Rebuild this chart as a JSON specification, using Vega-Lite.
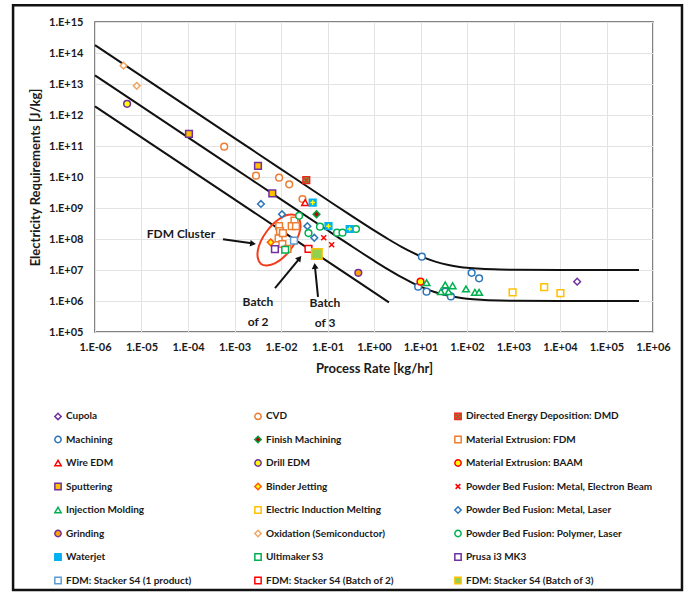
{
  "$schema": "https://vega.github.io/schema/vega-lite/v6.json",
  "width": 558,
  "height": 310,
  "autosize": {"type": "none"},
  "padding": {"left": 95, "top": 22, "right": 35, "bottom": 265},
  "background": "white",
  "config": {
    "font": "Lato",
    "view": {"stroke": "#595959", "strokeWidth": 1.5},
    "axis": {
      "labelFont": "Lato", "labelFontSize": 11, "labelFontWeight": "bold", "labelColor": "#1a1a1a",
      "titleFont": "Lato", "titleFontSize": 13, "titleFontWeight": "bold", "titleColor": "#1a1a1a",
      "gridColor": "#e3e3e3", "gridWidth": 1, "domain": false, "ticks": false
    },
    "legend": {
      "labelFont": "Lato", "labelFontSize": 10, "labelFontWeight": "bold", "labelColor": "#1a1a1a"
    }
  },
  "datasets": {
    "curves": [
      {"c":"top","x":1e-6,"y":1.8e14},{"c":"top","x":1e-5,"y":1.8e13},{"c":"top","x":1e-4,"y":1.8e12},{"c":"top","x":1e-3,"y":1.8e11},{"c":"top","x":1e-2,"y":1.8e10},{"c":"top","x":0.1,"y":1.81e9},{"c":"top","x":0.3,"y":6.1e8},{"c":"top","x":1,"y":1.9e8},{"c":"top","x":2,"y":1.0e8},{"c":"top","x":4,"y":5.5e7},{"c":"top","x":7,"y":3.57e7},{"c":"top","x":10,"y":2.8e7},{"c":"top","x":20,"y":1.9e7},{"c":"top","x":40,"y":1.45e7},{"c":"top","x":70,"y":1.26e7},{"c":"top","x":100,"y":1.18e7},{"c":"top","x":200,"y":1.09e7},{"c":"top","x":500,"y":1.036e7},{"c":"top","x":1000,"y":1.018e7},{"c":"top","x":10000,"y":1.002e7},{"c":"top","x":500000,"y":1e7},
      {"c":"mid","x":1e-6,"y":1.9e13},{"c":"mid","x":1e-5,"y":1.9e12},{"c":"mid","x":1e-4,"y":1.9e11},{"c":"mid","x":1e-3,"y":1.9e10},{"c":"mid","x":1e-2,"y":1.9e9},{"c":"mid","x":0.1,"y":1.91e8},{"c":"mid","x":0.3,"y":6.43e7},{"c":"mid","x":1,"y":2.0e7},{"c":"mid","x":2,"y":1.05e7},{"c":"mid","x":4,"y":5.75e6},{"c":"mid","x":7,"y":3.71e6},{"c":"mid","x":10,"y":2.9e6},{"c":"mid","x":20,"y":1.95e6},{"c":"mid","x":40,"y":1.475e6},{"c":"mid","x":70,"y":1.27e6},{"c":"mid","x":100,"y":1.19e6},{"c":"mid","x":200,"y":1.095e6},{"c":"mid","x":500,"y":1.038e6},{"c":"mid","x":1000,"y":1.019e6},{"c":"mid","x":10000,"y":1.002e6},{"c":"mid","x":500000,"y":1e6},
      {"c":"bot","x":1e-6,"y":1.9e12},{"c":"bot","x":1e-5,"y":1.9e11},{"c":"bot","x":1e-4,"y":1.9e10},{"c":"bot","x":1e-3,"y":1.9e9},{"c":"bot","x":1e-2,"y":1.9e8},{"c":"bot","x":0.1,"y":1.9e7},{"c":"bot","x":1,"y":1.9e6},{"c":"bot","x":2.1,"y":9.0e5}
    ],
    "ellipse": [
      {"i":0,"x":0.02208,"y":5.52e8},{"i":1,"x":0.02588,"y":2.04e8},{"i":2,"x":0.01641,"y":4.75e7},{"i":3,"x":0.007362,"y":1.633e7},
      {"i":4,"x":0.003715,"y":1.563e7},{"i":5,"x":0.00317,"y":4.23e7},{"i":6,"x":0.005,"y":1.81e8},{"i":7,"x":0.01114,"y":5.28e8}
    ],
    "arrows": [
      {"x":5.66e-4,"y":9.78e7,"x2":2.34e-3,"y2":7.26e7},
      {"x":7.43e-3,"y":2.62e6,"x2":2.44e-2,"y2":2.26e7},
      {"x":6.25e-2,"y":1.35e6,"x2":5.38e-2,"y2":1.25e7}
    ],
    "heads": [
      {"x":2.5e-3,"y":7.1e7,"a":8},
      {"x":2.5e-2,"y":2.4e7,"a":309},
      {"x":5.35e-2,"y":1.35e7,"a":265}
    ],
    "labels": [
      {"x":7.06e-5,"y":1.45e8,"t":"FDM Cluster"},
      {"x":3.2e-3,"y":9.5e5,"t":"Batch"},
      {"x":3.2e-3,"y":2.1e5,"t":"of 2"},
      {"x":8.83e-2,"y":8.4e5,"t":"Batch"},
      {"x":8.83e-2,"y":1.95e5,"t":"of 3"}
    ],
    "frame": [{"x":1.73e-8,"y":3.5e15,"x2":4.2e6,"y2":4.8e-4}],
    "pts": [
      {"cat":"Cupola","x":23400,"y":4.2e6},
      {"cat":"CVD","x":6.0e-4,"y":9.5e10},{"cat":"CVD","x":2.9e-3,"y":1.1e10},{"cat":"CVD","x":9.1e-3,"y":9.5e9},{"cat":"CVD","x":1.5e-2,"y":5.8e9},{"cat":"CVD","x":2.9e-2,"y":1.95e9},
      {"cat":"Directed Energy Deposition: DMD","x":3.5e-2,"y":7.9e9},
      {"cat":"Machining","x":10.7,"y":2.7e7},{"cat":"Machining","x":8.9,"y":2.9e6},{"cat":"Machining","x":13.5,"y":2.0e6},{"cat":"Machining","x":34,"y":2.0e6},{"cat":"Machining","x":45,"y":1.4e6},{"cat":"Machining","x":126,"y":8.1e6},{"cat":"Machining","x":182,"y":5.4e6},
      {"cat":"Finish Machining","x":5.8e-2,"y":6.3e8},
      {"cat":"Material Extrusion: FDM","x":9.1e-3,"y":2.6e8},{"cat":"Material Extrusion: FDM","x":9.5e-3,"y":1.8e8},{"cat":"Material Extrusion: FDM","x":1.95e-2,"y":3.9e8},{"cat":"Material Extrusion: FDM","x":1.7e-2,"y":2.6e8},{"cat":"Material Extrusion: FDM","x":2.1e-2,"y":2.6e8},{"cat":"Material Extrusion: FDM","x":8.9e-3,"y":1.05e8},{"cat":"Material Extrusion: FDM","x":1.07e-2,"y":6.9e7},{"cat":"Material Extrusion: FDM","x":1.38e-2,"y":4.8e7},{"cat":"Material Extrusion: FDM","x":1.1e-2,"y":1.55e8},
      {"cat":"Wire EDM","x":3.3e-2,"y":1.5e9},
      {"cat":"Drill EDM","x":4.9e-6,"y":2.3e12},
      {"cat":"Material Extrusion: BAAM","x":10,"y":4.2e6},
      {"cat":"Sputtering","x":1.05e-4,"y":2.45e11},{"cat":"Sputtering","x":3.2e-3,"y":2.3e10},{"cat":"Sputtering","x":6.5e-3,"y":2.95e9},
      {"cat":"Binder Jetting","x":6.0e-3,"y":7.8e7},
      {"cat":"Powder Bed Fusion: Metal, Electron Beam","x":8.3e-2,"y":1.1e8},{"cat":"Powder Bed Fusion: Metal, Electron Beam","x":0.123,"y":6.5e7},
      {"cat":"Injection Molding","x":13.5,"y":3.9e6},{"cat":"Injection Molding","x":34,"y":3.3e6},{"cat":"Injection Molding","x":49,"y":3.1e6},{"cat":"Injection Molding","x":27.5,"y":2.0e6},{"cat":"Injection Molding","x":40,"y":2.0e6},{"cat":"Injection Molding","x":95,"y":2.45e6},{"cat":"Injection Molding","x":148,"y":1.9e6},{"cat":"Injection Molding","x":182,"y":1.9e6},
      {"cat":"Electric Induction Melting","x":955,"y":1.9e6},{"cat":"Electric Induction Melting","x":4570,"y":2.8e6},{"cat":"Electric Induction Melting","x":10200,"y":1.8e6},
      {"cat":"Powder Bed Fusion: Metal, Laser","x":3.7e-3,"y":1.35e9},{"cat":"Powder Bed Fusion: Metal, Laser","x":1.05e-2,"y":6.3e8},{"cat":"Powder Bed Fusion: Metal, Laser","x":3.7e-2,"y":2.6e8},{"cat":"Powder Bed Fusion: Metal, Laser","x":5.2e-2,"y":1.1e8},
      {"cat":"Grinding","x":0.46,"y":8.1e6},
      {"cat":"Oxidation (Semiconductor)","x":4.1e-6,"y":3.9e13},{"cat":"Oxidation (Semiconductor)","x":7.9e-6,"y":8.7e12},
      {"cat":"Powder Bed Fusion: Polymer, Laser","x":2.45e-2,"y":5.6e8},{"cat":"Powder Bed Fusion: Polymer, Laser","x":6.9e-2,"y":2.5e8},{"cat":"Powder Bed Fusion: Polymer, Laser","x":0.16,"y":1.6e8},{"cat":"Powder Bed Fusion: Polymer, Laser","x":0.21,"y":1.6e8},{"cat":"Powder Bed Fusion: Polymer, Laser","x":0.41,"y":2.1e8},{"cat":"Powder Bed Fusion: Polymer, Laser","x":3.9e-2,"y":1.55e8},
      {"cat":"Waterjet","x":4.8e-2,"y":1.5e9},{"cat":"Waterjet","x":0.105,"y":2.6e8},{"cat":"Waterjet","x":0.30,"y":2.1e8},
      {"cat":"Ultimaker S3","x":1.23e-2,"y":4.5e7},
      {"cat":"Prusa i3 MK3","x":7.4e-3,"y":4.7e7},
      {"cat":"FDM: Stacker S4 (1 product)","x":1.9e-2,"y":8.9e7},
      {"cat":"FDM: Stacker S4 (Batch of 2)","x":3.9e-2,"y":4.8e7},
      {"cat":"FDM: Stacker S4 (Batch of 3)","x":5.9e-2,"y":3.3e7}
    ]
  },
  "encoding": {
    "x": {
      "field": "x", "type": "quantitative",
      "scale": {"type": "log", "domain": [1e-6, 1e6], "nice": false},
      "axis": {
        "title": "Process Rate [kg/hr]",
        "values": [1e-6,1e-5,1e-4,1e-3,1e-2,1e-1,1,10,100,1000,10000,100000,1000000],
        "labelExpr": "'1.E' + (round(log(datum.value)/LN10) < 0 ? '-' : '+') + (abs(round(log(datum.value)/LN10)) < 10 ? '0' : '') + abs(round(log(datum.value)/LN10))",
        "labelPadding": 9, "titlePadding": 10, "labelFlush": false, "labelOverlap": false
      }
    },
    "y": {
      "field": "y", "type": "quantitative",
      "scale": {"type": "log", "domain": [1e5, 1e15], "nice": false},
      "axis": {
        "title": "Electricity Requirements [J/kg]",
        "values": [1e5,1e6,1e7,1e8,1e9,1e10,1e11,1e12,1e13,1e14,1e15],
        "labelExpr": "'1.E+' + (round(log(datum.value)/LN10) < 10 ? '0' : '') + round(log(datum.value)/LN10)",
        "labelPadding": 12, "titlePadding": 6, "labelFlush": false, "labelOverlap": false
      }
    }
  },
  "layer": [
    {
      "data": {"name": "frame"},
      "mark": {"type": "rect", "fill": null, "fillOpacity": 0, "stroke": "#111", "strokeWidth": 2.5, "clip": false},
      "encoding": {"x2": {"field": "x2"}, "y2": {"field": "y2"}}
    },
    {
      "data": {"name": "curves"},
      "mark": {"type": "line", "color": "#111", "strokeWidth": 2, "interpolate": "monotone"},
      "encoding": {"detail": {"field": "c"}}
    },
    {
      "data": {"name": "ellipse"},
      "mark": {"type": "line", "color": "#f23c1c", "strokeWidth": 2, "interpolate": "cardinal-closed"},
      "encoding": {"order": {"field": "i", "type": "quantitative"}}
    },
    {
      "data": {"name": "arrows"},
      "mark": {"type": "rule", "color": "#111", "strokeWidth": 2},
      "encoding": {"x2": {"field": "x2"}, "y2": {"field": "y2"}}
    },
    {
      "data": {"name": "heads"},
      "mark": {"type": "point", "shape": "triangle-right", "filled": true, "color": "#111", "size": 45, "opacity": 1},
      "encoding": {"angle": {"field": "a", "type": "quantitative", "scale": null}}
    },
    {
      "data": {"name": "labels"},
      "mark": {"type": "text", "font": "Lato", "fontSize": 12, "fontWeight": "bold", "color": "#1a1a1a"},
      "encoding": {"text": {"field": "t"}}
    },
    {
      "data": {"name": "pts"},
      "mark": {"type": "point", "strokeWidth": 1.5, "opacity": 1, "fillOpacity": 1},
      "encoding": {
        "shape": {
          "field": "cat", "type": "nominal",
          "scale": {
            "domain": ["Cupola","Machining","Wire EDM","Sputtering","Injection Molding","Grinding","Waterjet","FDM: Stacker S4 (1 product)","CVD","Finish Machining","Drill EDM","Binder Jetting","Electric Induction Melting","Oxidation (Semiconductor)","Ultimaker S3","FDM: Stacker S4 (Batch of 2)","Directed Energy Deposition: DMD","Material Extrusion: FDM","Material Extrusion: BAAM","Powder Bed Fusion: Metal, Electron Beam","Powder Bed Fusion: Metal, Laser","Powder Bed Fusion: Polymer, Laser","Prusa i3 MK3","FDM: Stacker S4 (Batch of 3)"],
            "range": ["diamond","circle","triangle-up","square","triangle-up","circle","square","square","circle","diamond","circle","diamond","square","diamond","square","square","M-1,-1H1V1H-1Z M-0.6,-0.6L0.6,0.6 M-0.6,0.6L0.6,-0.6","square","circle","M-0.75,-0.75L0.75,0.75 M-0.75,0.75L0.75,-0.75","diamond","circle","square","square"]
          },
          "legend": {"title": null, "orient": "none", "legendX": -42, "legendY": 389, "columns": 3, "gridAlign": "all", "columnPadding": -7, "rowPadding": 9.5, "symbolSize": 40, "symbolStrokeWidth": 1.5, "labelLimit": 300, "labelOffset": 3}
        },
        "stroke": {
          "field": "cat", "type": "nominal",
          "scale": {
            "domain": ["Cupola","Machining","Wire EDM","Sputtering","Injection Molding","Grinding","Waterjet","FDM: Stacker S4 (1 product)","CVD","Finish Machining","Drill EDM","Binder Jetting","Electric Induction Melting","Oxidation (Semiconductor)","Ultimaker S3","FDM: Stacker S4 (Batch of 2)","Directed Energy Deposition: DMD","Material Extrusion: FDM","Material Extrusion: BAAM","Powder Bed Fusion: Metal, Electron Beam","Powder Bed Fusion: Metal, Laser","Powder Bed Fusion: Polymer, Laser","Prusa i3 MK3","FDM: Stacker S4 (Batch of 3)"],
            "range": ["#7030a0","#2e75b6","#ff0000","#7030a0","#00b050","#7030a0","#00b0f0","#5b9bd5","#ed7d31","#00a040","#7030a0","#ff5a00","#ffc000","#f4a460","#00b050","#ff0000","#e8281e","#ed7d31","#ff0000","#ff0000","#2e75b6","#00b050","#7030a0","#ffc000"]
          },
          "legend": {"title": null, "orient": "none", "legendX": -42, "legendY": 389, "columns": 3, "gridAlign": "all", "columnPadding": -7, "rowPadding": 9.5, "symbolSize": 40, "symbolStrokeWidth": 1.5, "labelLimit": 300, "labelOffset": 3}
        },
        "fill": {
          "field": "cat", "type": "nominal",
          "scale": {
            "domain": ["Cupola","Machining","Wire EDM","Sputtering","Injection Molding","Grinding","Waterjet","FDM: Stacker S4 (1 product)","CVD","Finish Machining","Drill EDM","Binder Jetting","Electric Induction Melting","Oxidation (Semiconductor)","Ultimaker S3","FDM: Stacker S4 (Batch of 2)","Directed Energy Deposition: DMD","Material Extrusion: FDM","Material Extrusion: BAAM","Powder Bed Fusion: Metal, Electron Beam","Powder Bed Fusion: Metal, Laser","Powder Bed Fusion: Polymer, Laser","Prusa i3 MK3","FDM: Stacker S4 (Batch of 3)"],
            "range": ["white","white","white","#ffc000","white","#ffa500","#00b0f0","white","white","#c00000","#ffff00","#ffff00","white","white","white","white","#70ad47","white","#ffff00","white","white","white","white","#92d050"]
          },
          "legend": {"title": null, "orient": "none", "legendX": -42, "legendY": 389, "columns": 3, "gridAlign": "all", "columnPadding": -7, "rowPadding": 9.5, "symbolSize": 40, "symbolStrokeWidth": 1.5, "labelLimit": 300, "labelOffset": 3}
        },
        "size": {
          "condition": {"test": "datum.cat === 'FDM: Stacker S4 (Batch of 3)'", "value": 110},
          "value": 45
        }
      }
    },
    {
      "data": {"name": "pts"},
      "transform": [{"filter": "datum.cat === 'Waterjet'"}],
      "mark": {"type": "point", "shape": "M0,-0.7V0.7 M-0.7,0H0.7", "stroke": "#ffff00", "strokeWidth": 1.5, "size": 45, "opacity": 1}
    }
  ]
}
